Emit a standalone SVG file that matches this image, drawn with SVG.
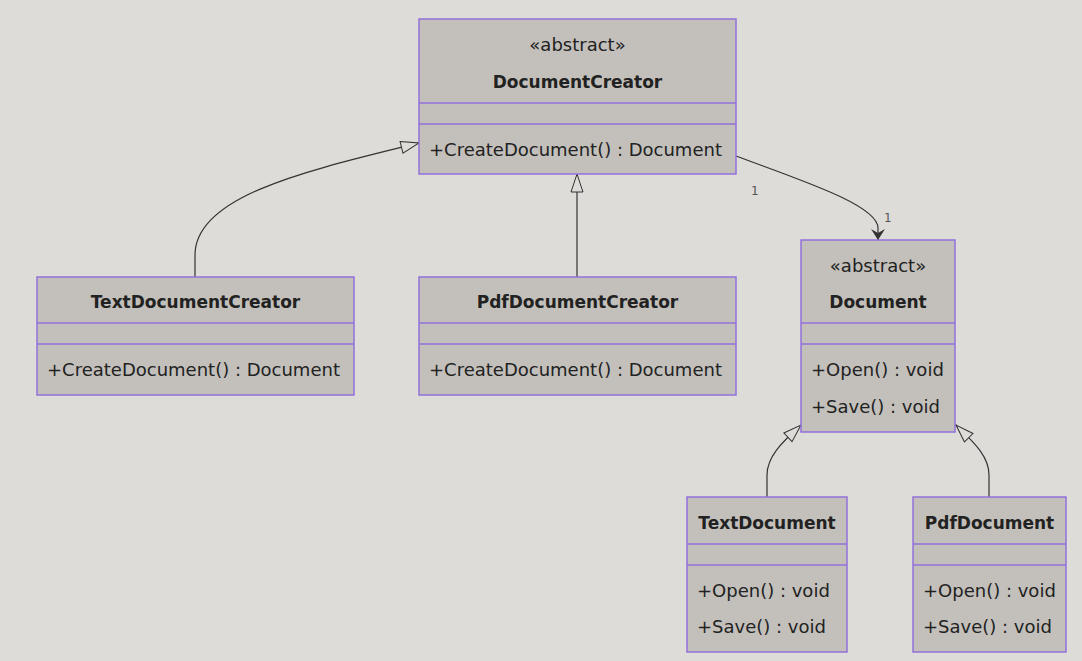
<svg xmlns="http://www.w3.org/2000/svg" width="1082" height="661" viewBox="0 0 1082 661">
<defs>
<style>
.box{fill:#c3c0bb;stroke:#9370db;stroke-width:1.5}
.div{stroke:#9370db;stroke-width:1.5}
text{font-family:"DejaVu Sans",sans-serif;font-size:18px;fill:#222}
.t{font-weight:bold;text-anchor:middle;font-size:17px}
.s{text-anchor:middle}
.edge{fill:none;stroke:#333;stroke-width:1.2}
.lbl{font-size:12px;fill:#555;font-family:"DejaVu Sans",sans-serif}
</style>
<marker id="tri" viewBox="0 0 20 14" refX="19" refY="7" markerWidth="20" markerHeight="14" markerUnits="userSpaceOnUse" orient="auto">
<path d="M1,1 L19,7 L1,13 Z" fill="#dddcd8" stroke="#333" stroke-width="1"/>
</marker>
<marker id="arr" viewBox="0 0 12 14" refX="11" refY="7" markerWidth="12" markerHeight="14" markerUnits="userSpaceOnUse" orient="auto">
<path d="M0,0 L11,7 L0,14 L4,7 Z" fill="#333"/>
</marker>
</defs>
<rect width="1082" height="661" fill="#dddcd8"/>
<g id="connectors">
<path class="edge" d="M195,277 L195,255 C195,195 310,170 419,143" marker-end="url(#tri)"/>
<path class="edge" d="M577,277 L577,174" marker-end="url(#tri)"/>
<path class="edge" d="M736,156 C800,180 878,205 878,228 L878,240" marker-end="url(#arr)"/>
<path class="edge" d="M767,497 L767,475 C767,455 785,440 801,425" marker-end="url(#tri)"/>
<path class="edge" d="M989,497 L989,475 C989,455 971,440 956,425" marker-end="url(#tri)"/>
<text class="lbl" x="751" y="195">1</text>
<text class="lbl" x="884" y="222">1</text>
</g>
<g id="DocumentCreator">
<rect class="box" x="419" y="19" width="317" height="155"/>
<line class="div" x1="419" y1="103" x2="736" y2="103"/>
<line class="div" x1="419" y1="124" x2="736" y2="124"/>
<text class="s" x="577.5" y="51">«abstract»</text>
<text class="t" x="577.5" y="88">DocumentCreator</text>
<text x="429" y="156">+CreateDocument() : Document</text>
</g>
<g id="TextDocumentCreator">
<rect class="box" x="37" y="277" width="317" height="118"/>
<line class="div" x1="37" y1="323" x2="354" y2="323"/>
<line class="div" x1="37" y1="344" x2="354" y2="344"/>
<text class="t" x="195.5" y="308">TextDocumentCreator</text>
<text x="47" y="376">+CreateDocument() : Document</text>
</g>
<g id="PdfDocumentCreator">
<rect class="box" x="419" y="277" width="317" height="118"/>
<line class="div" x1="419" y1="323" x2="736" y2="323"/>
<line class="div" x1="419" y1="344" x2="736" y2="344"/>
<text class="t" x="577.5" y="308">PdfDocumentCreator</text>
<text x="429" y="376">+CreateDocument() : Document</text>
</g>
<g id="Document">
<rect class="box" x="801" y="240" width="154" height="192"/>
<line class="div" x1="801" y1="323" x2="955" y2="323"/>
<line class="div" x1="801" y1="344" x2="955" y2="344"/>
<text class="s" x="878" y="272">«abstract»</text>
<text class="t" x="878" y="308">Document</text>
<text x="811" y="376">+Open() : void</text>
<text x="811" y="413">+Save() : void</text>
</g>
<g id="TextDocument">
<rect class="box" x="687" y="497" width="160" height="155"/>
<line class="div" x1="687" y1="544" x2="847" y2="544"/>
<line class="div" x1="687" y1="565" x2="847" y2="565"/>
<text class="t" x="767" y="529">TextDocument</text>
<text x="697" y="597">+Open() : void</text>
<text x="697" y="633">+Save() : void</text>
</g>
<g id="PdfDocument">
<rect class="box" x="913" y="497" width="153" height="155"/>
<line class="div" x1="913" y1="544" x2="1066" y2="544"/>
<line class="div" x1="913" y1="565" x2="1066" y2="565"/>
<text class="t" x="989.5" y="529">PdfDocument</text>
<text x="923" y="597">+Open() : void</text>
<text x="923" y="633">+Save() : void</text>
</g>
</svg>
